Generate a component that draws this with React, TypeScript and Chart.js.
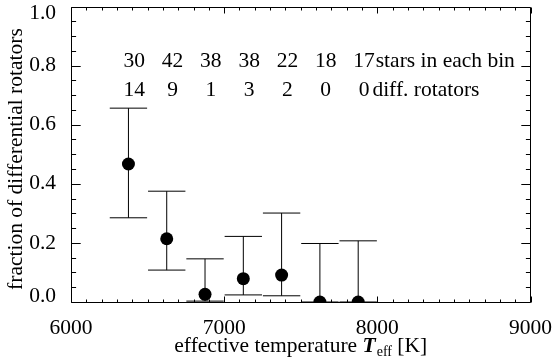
import React, { useEffect, useRef } from "react";
import { Chart, registerables } from "chart.js";

Chart.register(...registerables);

// ---- data ----
const binCenters = [6375, 6625, 6875, 7125, 7375, 7625, 7875];
const fractions = [0.467, 0.214, 0.026, 0.079, 0.091, 0.0, 0.0];
const upperLimits = [0.656, 0.375, 0.146, 0.222, 0.301, 0.198, 0.207];
const lowerLimits = [0.285, 0.108, 0.003, 0.024, 0.021, 0.0, 0.0];
const starsInBin = [30, 42, 38, 38, 22, 18, 17];
const diffRotators = [14, 9, 1, 3, 2, 0, 0];
const xTickValues = [6000, 7000, 8000, 9000];
const yTickValues = [0, 0.2, 0.4, 0.6, 0.8, 1.0];
const starsRowText = "stars in each bin";
const diffRowText = "diff. rotators";
const xTitleMain = "effective temperature ";
const xTitleSymbol = "T";
const xTitleSub = "eff";
const xTitleUnit = " [K]";
const yTitle = "fraction of differential rotators";

// ---- styles ----
const FONT = "'Liberation Serif', 'Times New Roman', serif";
const FS = 21.5;
const CAP_HALF = 122; // K
const ROW1_Y = 0.795;
const ROW2_Y = 0.698;
const LABEL_SHIFT = 38; // K

export default function App() {
  const ref = useRef<HTMLCanvasElement>(null);

  useEffect(() => {
    const canvas = ref.current!;

    const errorBars = {
      id: "errorBars",
      beforeDatasetsDraw(chart: any) {
        const xs = chart.scales.x;
        const ys = chart.scales.y;
        const ctx = chart.ctx;
        ctx.save();
        ctx.strokeStyle = "#000";
        ctx.lineWidth = 1;
        for (let i = 0; i < binCenters.length; i++) {
          const c = binCenters[i];
          const x = xs.getPixelForValue(c);
          const x0 = xs.getPixelForValue(c - CAP_HALF);
          const x1 = xs.getPixelForValue(c + CAP_HALF);
          const yu = ys.getPixelForValue(upperLimits[i]);
          const yl = ys.getPixelForValue(lowerLimits[i]);
          ctx.beginPath();
          ctx.moveTo(x, yu);
          ctx.lineTo(x, yl);
          ctx.moveTo(x0, yu);
          ctx.lineTo(x1, yu);
          ctx.moveTo(x0, yl);
          ctx.lineTo(x1, yl);
          ctx.stroke();
        }
        ctx.restore();
      },
    };

    const frame = {
      id: "frame",
      afterDatasetsDraw(chart: any) {
        const { left, right, top, bottom } = chart.chartArea;
        const xs = chart.scales.x;
        const ys = chart.scales.y;
        const ctx = chart.ctx;
        ctx.save();
        ctx.strokeStyle = "#000";
        ctx.lineWidth = 1;
        const L = Math.round(left) + 0.5;
        const R = Math.round(right) - 0.5;
        const T = Math.round(top) + 0.5;
        const B = Math.round(bottom) + 0.5;
        ctx.beginPath();
        ctx.rect(L, T, R - L, B - T);
        ctx.stroke();
        ctx.beginPath();
        // x ticks every 100 K, major every 1000 K
        for (let k = 0; k <= 30; k++) {
          const v = 6000 + k * 100;
          const len = k % 10 === 0 ? 6 : 3;
          const px = Math.round(xs.getPixelForValue(v)) + 0.5;
          ctx.moveTo(px, B);
          ctx.lineTo(px, B - len);
          ctx.moveTo(px, T);
          ctx.lineTo(px, T + len);
        }
        // y ticks every 0.05, major every 0.2
        for (let k = 0; k <= 20; k++) {
          const v = k * 0.05;
          const len = k % 4 === 0 ? 9.2 : 4.6;
          const py = Math.round(ys.getPixelForValue(v)) + 0.5;
          ctx.moveTo(L, py);
          ctx.lineTo(L + len, py);
          ctx.moveTo(R, py);
          ctx.lineTo(R - len, py);
        }
        ctx.stroke();
        ctx.restore();
      },
    };

    const texts = {
      id: "texts",
      afterDraw(chart: any) {
        const xs = chart.scales.x;
        const ys = chart.scales.y;
        const ctx = chart.ctx;
        const { left, right, top, bottom } = chart.chartArea;
        ctx.save();
        ctx.fillStyle = "#000";
        ctx.font = `${FS}px ${FONT}`;
        ctx.textBaseline = "alphabetic";
        ctx.textAlign = "center";
        const y1 = ys.getPixelForValue(ROW1_Y);
        const y2 = ys.getPixelForValue(ROW2_Y);
        let last1 = 0;
        let last2 = 0;
        for (let i = 0; i < binCenters.length; i++) {
          const x = xs.getPixelForValue(binCenters[i] + LABEL_SHIFT);
          ctx.fillText(String(starsInBin[i]), x, y1);
          ctx.fillText(String(diffRotators[i]), x, y2);
          last1 = x + ctx.measureText(String(starsInBin[i])).width / 2;
          last2 = x + ctx.measureText(String(diffRotators[i])).width / 2;
        }
        ctx.textAlign = "left";
        ctx.fillText(starsRowText, last1 + 1, y1);
        ctx.fillText(diffRowText, last2 + 3, y2);

        // y-axis title (rotated)
        ctx.save();
        ctx.translate(16.6, (top + bottom) / 2 + 4.8);
        ctx.rotate(-Math.PI / 2);
        ctx.textAlign = "center";
        ctx.textBaseline = "middle";
        ctx.font = `${FS}px ${FONT}`;
        ctx.fillText(yTitle, 0, 0);
        ctx.restore();

        // x-axis title with bold-italic symbol and subscript
        const mainFont = `${FS}px ${FONT}`;
        const symFont = `italic bold ${FS}px ${FONT}`;
        const subFont = `${14}px ${FONT}`;
        ctx.textAlign = "left";
        ctx.textBaseline = "alphabetic";
        ctx.font = mainFont;
        const w1 = ctx.measureText(xTitleMain).width;
        const w4 = ctx.measureText(xTitleUnit).width;
        ctx.font = symFont;
        const w2 = ctx.measureText(xTitleSymbol).width;
        ctx.font = subFont;
        const w3 = ctx.measureText(xTitleSub).width;
        const total = w1 + w2 + 1 + w3 + w4;
        let x = (left + right) / 2 - total / 2;
        const base = chart.height - 11.5;
        ctx.font = mainFont;
        ctx.fillText(xTitleMain, x, base);
        x += w1;
        ctx.font = symFont;
        ctx.fillText(xTitleSymbol, x, base);
        x += w2 + 1;
        ctx.font = subFont;
        ctx.fillText(xTitleSub, x, base + 4);
        x += w3;
        ctx.font = mainFont;
        ctx.fillText(xTitleUnit, x, base);
        ctx.restore();
      },
    };

    const points = binCenters.map((c, i) => ({ x: c, y: fractions[i] }));

    const chart = new Chart(canvas, {
      type: "scatter",
      data: {
        datasets: [
          {
            data: points,
            pointRadius: 6.5,
            pointHoverRadius: 6.5,
            pointBackgroundColor: "#000",
            pointBorderWidth: 0,
            borderColor: "#000",
            showLine: false,
          },
        ],
      },
      options: {
        animation: false,
        responsive: true,
        maintainAspectRatio: false,
        events: [],
        layout: { padding: { top: 5, right: 21.5, left: 0, bottom: 0 } },
        plugins: {
          legend: { display: false },
          tooltip: { enabled: false },
        },
        scales: {
          x: {
            type: "linear",
            min: 6000,
            max: 9000,
            afterBuildTicks: (scale: any) => {
              scale.ticks = xTickValues.map((v) => ({ value: v }));
            },
            afterFit: (scale: any) => {
              scale.height = 61;
              scale.paddingLeft = 0;
              scale.paddingRight = 0;
            },
            ticks: {
              color: "#000",
              padding: 5,
              maxRotation: 0,
              font: { family: FONT, size: FS },
              callback: (v: any) => String(v),
            },
            grid: { display: false },
            border: { display: false },
          },
          y: {
            type: "linear",
            min: 0,
            max: 1,
            afterBuildTicks: (scale: any) => {
              scale.ticks = yTickValues.map((v) => ({ value: v }));
            },
            afterFit: (scale: any) => {
              scale.width = 71;
              scale.paddingTop = 0;
              scale.paddingBottom = 0;
            },
            ticks: {
              color: "#000",
              padding: 7,
              font: (ctx: any) => {
                const v = ctx.tick ? ctx.tick.value : 0.5;
                let lh = 1.2;
                if (Math.abs(v - 1) < 1e-9) lh = 13.4 / FS;
                else if (Math.abs(v) < 1e-9) lh = 10.6 / FS;
                return { family: FONT, size: FS, lineHeight: lh };
              },
              callback: (v: any) => {
                const s = Number(v).toFixed(1);
                if (Math.abs(v - 1) < 1e-9) return ["", s];
                if (Math.abs(v) < 1e-9) return [s, ""];
                return s;
              },
            },
            grid: { display: false },
            border: { display: false },
            title: { display: false },
          },
        },
      },
      plugins: [errorBars, frame, texts],
    } as any);

    return () => chart.destroy();
  }, []);

  return (
    <div style={{ position: "absolute", left: 0, top: 0, width: 552, height: 363, background: "#fff" }}>
      <canvas ref={ref} />
    </div>
  );
}
